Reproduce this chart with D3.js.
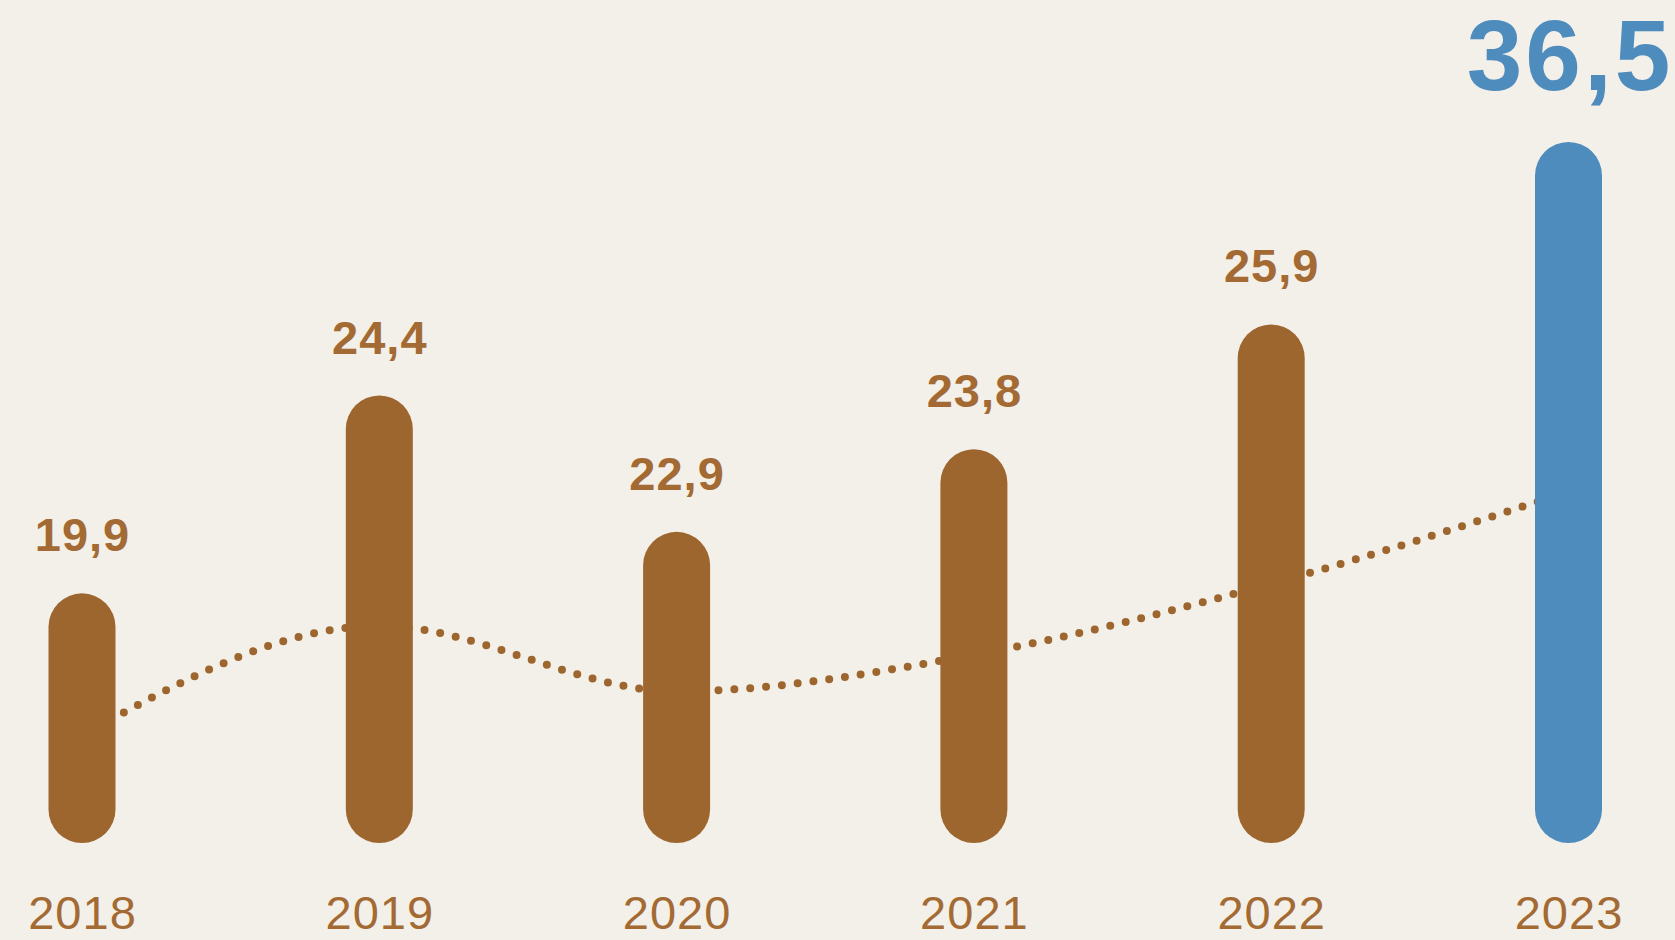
<!DOCTYPE html>
<html>
<head>
<meta charset="utf-8">
<script src="https://cdn.jsdelivr.net/npm/d3@7"></script>
<style>
  body { margin: 0; background: #f3f0e9; }
  svg { display: block; }
</style>
</head>
<body>
<div id="chart-area"></div>
<script>
// Data
const years = ['2018', '2019', '2020', '2021', '2022', '2023']
const labels = ['19,9', '24,4', '22,9', '23,8', '25,9', '36,5']
// bar lengths are not proportional to the printed values in the original,
// so they are read off the picture in the same units (tallest bar = 36,5)
const barLength = [13.0, 23.3, 16.2, 20.5, 27.0, 36.5]
// dotted trend line, same units
const trend = [5.6, 11.3, 7.9, 9.8, 13.5, 18.3]

// Sizing
const WIDTH = 1675
const HEIGHT = 940
const BASE = 843
const BAR_W = 67

const BROWN = '#9e662f'
const BROWN_TEXT = '#a36a33'
const BLUE = '#4e8cbe'

const svg = d3.select('#chart-area').append('svg')
  .attr('width', WIDTH)
  .attr('height', HEIGHT)

svg.append('rect')
  .attr('width', WIDTH)
  .attr('height', HEIGHT)
  .attr('fill', '#f3f0e9')

// Scales
const x = d3.scalePoint()
  .domain(years)
  .range([82, 1568.5])

const y = d3.scaleLinear()
  .domain([0, 36.5])
  .range([BASE, 142])

const rows = years.map((yr, i) => ({
  year: yr, label: labels[i], bar: barLength[i], trend: trend[i], last: i === years.length - 1
}))

// dotted trend line (behind the bars)
const line = d3.line()
  .x(d => x(d.year))
  .y(d => y(d.trend))
  .curve(d3.curveMonotoneX)

svg.append('path')
  .datum(rows)
  .attr('d', line)
  .attr('fill', 'none')
  .attr('stroke', BROWN)
  .attr('stroke-width', 8)
  .attr('stroke-linecap', 'round')
  .attr('stroke-dasharray', '0 15.9')

// bars
svg.selectAll('rect.bar')
  .data(rows)
  .enter().append('rect')
  .attr('class', 'bar')
  .attr('x', d => x(d.year) - BAR_W / 2)
  .attr('y', d => y(d.bar))
  .attr('width', BAR_W)
  .attr('height', d => BASE - y(d.bar))
  .attr('rx', BAR_W / 2)
  .attr('ry', BAR_W / 2)
  .attr('fill', d => d.last ? BLUE : BROWN)

// value labels
svg.selectAll('text.value')
  .data(rows)
  .enter().append('text')
  .attr('class', 'value')
  .attr('x', d => x(d.year) + (d.last ? 1.5 : 0.5))
  .attr('y', d => y(d.bar) - (d.last ? 52 : 42))
  .attr('text-anchor', 'middle')
  .attr('font-family', 'Liberation Sans, Arial, sans-serif')
  .attr('font-weight', 'bold')
  .attr('font-size', d => d.last ? '100px' : '47px')
  .attr('letter-spacing', d => d.last ? '3px' : '1px')
  .attr('fill', d => d.last ? BLUE : BROWN_TEXT)
  .text(d => d.label)

// year labels
svg.selectAll('text.year')
  .data(rows)
  .enter().append('text')
  .attr('class', 'year')
  .attr('x', d => x(d.year) + 0.5)
  .attr('y', 929)
  .attr('text-anchor', 'middle')
  .attr('font-family', 'Liberation Sans, Arial, sans-serif')
  .attr('font-size', '47px')
  .attr('letter-spacing', '1px')
  .attr('fill', BROWN_TEXT)
  .text(d => d.year)
</script>
</body>
</html>
